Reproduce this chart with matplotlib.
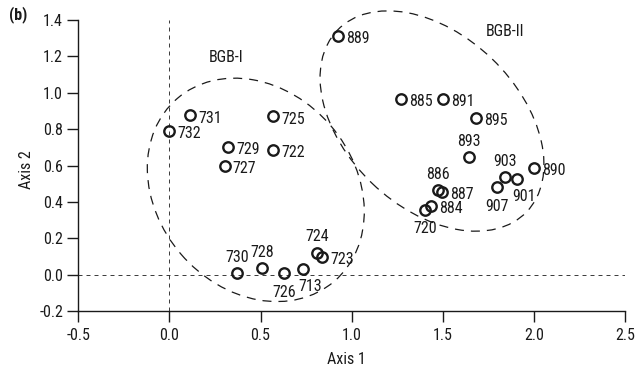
import matplotlib
matplotlib.use("Agg")
import matplotlib.pyplot as plt
from matplotlib.patches import Ellipse
from matplotlib import font_manager

# --- sample scores on the first two axes ---
sample_ids = ["731", "732", "725", "729", "722", "727",
              "730", "728", "726", "713", "724", "723",
              "889", "885", "891", "895", "893",
              "886", "887", "884", "720",
              "903", "901", "907", "890"]
axis1 = [0.113, 0.000, 0.571, 0.321, 0.571, 0.303,
         0.372, 0.507, 0.628, 0.735, 0.812, 0.838,
         0.927, 1.271, 1.502, 1.685, 1.645,
         1.476, 1.498, 1.435, 1.402,
         1.842, 1.909, 1.800, 1.999]
axis2 = [0.876, 0.790, 0.870, 0.702, 0.688, 0.596,
         0.008, 0.036, 0.008, 0.034, 0.122, 0.098,
         1.312, 0.965, 0.965, 0.861, 0.645,
         0.465, 0.454, 0.377, 0.359,
         0.536, 0.527, 0.481, 0.587]

# group outlines: centre, full width, full height, rotation (deg)
group_names = ["BGB-I", "BGB-II"]
group_center = [(0.474, 0.467), (1.441, 0.845)]
group_width = [1.323, 1.440]
group_height = [1.083, 0.949]
group_angle = [-49.4, -43.9]
group_label_xy = [(0.312, 1.196), (1.841, 1.336)]

x_ticks = [-0.5, 0.0, 0.5, 1.0, 1.5, 2.0, 2.5]
y_ticks = [-0.2, 0.0, 0.2, 0.4, 0.6, 0.8, 1.0, 1.2, 1.4]

# where each sample label sits relative to its marker
label_side = {"730": "t", "728": "t", "724": "t", "893": "t", "886": "t", "903": "t",
              "726": "b", "720": "b", "907": "b", "713": "br", "901": "br"}

# ---------------------------------------------------------------
# prefer a narrow sans face when one is installed
fonts = font_manager.fontManager.ttflist
names = {f.name for f in fonts}
stretch_kw = {}
FS = 11.5
family = None
for cand in ("Liberation Sans Narrow", "Arial Narrow", "Roboto Condensed",
             "Open Sans Condensed", "Noto Sans Condensed"):
    if cand in names:
        family = cand
        break
if family is None:
    condensed = [f for f in fonts if f.name in ("DejaVu Sans", "Noto Sans", "Open Sans", "Roboto")
                 and str(f.stretch).lower() in ("condensed", "semi-condensed", "semicondensed",
                                                 "75", "87")]
    if condensed:
        family = condensed[0].name
        stretch_kw = {"fontstretch": condensed[0].stretch}
        FS = 11.0
    else:
        family = "Liberation Sans"
        FS = 10.5
plt.rcParams["font.family"] = [family, "DejaVu Sans"]
if stretch_kw:
    plt.rcParams["font.stretch"] = stretch_kw["fontstretch"]
INK = "#1a1a1a"

DPI = 100
fig = plt.figure(figsize=(6.37, 3.72), dpi=DPI)
W, H = 637, 372
left, right, top, bottom = 78.3, 625.0, 20.0, 311.3
ax = fig.add_axes([left / W, 1 - bottom / H, (right - left) / W, (bottom - top) / H])

ax.set_xlim(-0.5, 2.5)
ax.set_ylim(-0.2, 1.4)
ax.set_xticks(x_ticks)
ax.set_yticks(y_ticks)
ax.set_xticklabels([f"{v:.1f}" for v in x_ticks])
ax.set_yticklabels([f"{v:.1f}" for v in y_ticks])
for s in ("top", "right"):
    ax.spines[s].set_visible(False)
for s in ("left", "bottom"):
    ax.spines[s].set_linewidth(1.0)
    ax.spines[s].set_color(INK)
ax.tick_params(axis="both", direction="out", length=8, width=1.0, color=INK,
               labelsize=FS, labelcolor=INK)
ax.tick_params(axis="y", pad=3)
ax.tick_params(axis="x", pad=4)

# zero reference lines
ax.axhline(0, color=INK, lw=0.6, linestyle=(0, (4.8, 4.8)), zorder=1)
ax.axvline(0, color=INK, lw=0.6, linestyle=(0, (4.8, 4.8)), zorder=1)

# group outlines
for c, w, h, a, name, lxy in zip(group_center, group_width, group_height,
                                  group_angle, group_names, group_label_xy):
    ax.add_patch(Ellipse(c, w, h, angle=a, fill=False, edgecolor=INK, lw=0.9,
                         linestyle=(0, (7.2, 5.6)), zorder=2, clip_on=False))
    ax.text(lxy[0], lxy[1], name, ha="center", va="center", fontsize=FS, color=INK)

# samples
ax.plot(axis1, axis2, linestyle="none", marker="o", ms=7.5, mew=1.7,
        mfc="none", mec=INK, zorder=3, clip_on=False)

px = 72.0 / DPI  # pixels -> points
cap = 5.6        # half the digit height in pixels
for sid, x, y in zip(sample_ids, axis1, axis2):
    side = label_side.get(sid, "r")
    if side == "r":
        dx, dy, ha = 8, 1.5, "left"
    elif side == "t":
        dx, dy, ha = 0, -17, "center"
    elif side == "b":
        dx, dy, ha = 0, 18, "center"
    else:
        dx, dy, ha = 6.5, 16.5, "center"
    ax.annotate(sid, (x, y), xytext=(dx * px, -(dy + cap) * px),
                textcoords="offset points", ha=ha, va="baseline",
                fontsize=FS, color=INK, zorder=4)

fig.text(346 / W, 1 - 360 / H, "Axis 1", ha="center", va="center", fontsize=FS, color=INK)
fig.text(26.7 / W, 1 - 170 / H, "Axis 2", ha="center", va="center", rotation=90,
         fontsize=FS, color=INK)
fig.text(18.5 / W, 1 - 15 / H, "(b)", ha="center", va="center", fontsize=FS,
         fontweight="bold", color=INK)

fig.savefig("out.png", dpi=DPI)
